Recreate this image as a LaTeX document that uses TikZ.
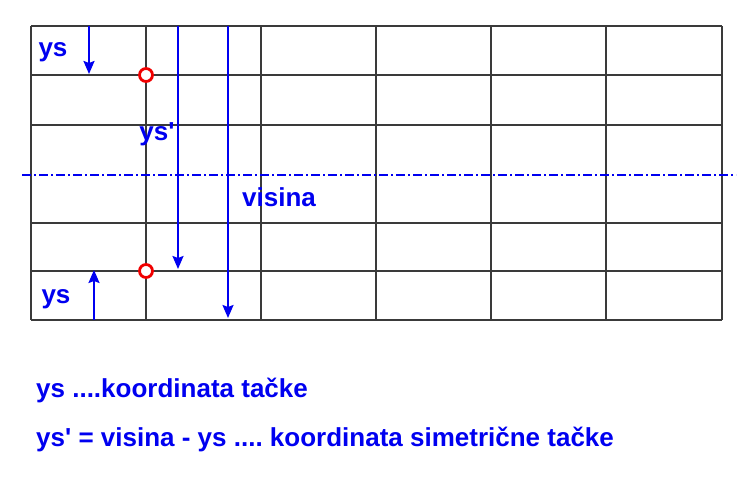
\documentclass[tikz,border=0pt]{standalone}
\usepackage{fontspec}
\setmainfont{Liberation Sans}[Ligatures=TeXOff]
\usetikzlibrary{arrows.meta,positioning}
\definecolor{GridInk}{HTML}{3A3A3A}
\definecolor{LabelBlue}{HTML}{0000F0}
\definecolor{DotRed}{HTML}{F00000}
\tikzset{
  gridline/.style={draw=GridInk, line width=1.1pt},
  axisline/.style={draw=LabelBlue, line width=1.2pt,
    dash pattern=on 9pt off 3pt on 2pt off 3pt},
  arrowline/.style={draw=LabelBlue, line width=2pt,
    -{Stealth[length=13pt,width=11pt,inset=2pt]}},
  labeltext/.style={text=LabelBlue, font=\fontsize{26}{30}\selectfont\bfseries,
    inner sep=1pt},
  notetext/.style={labeltext, anchor=west},
  pointmark/.style={circle, draw=DotRed, fill=white, line width=2.8pt,
    minimum size=13pt, inner sep=0pt}
}
\frenchspacing

\begin{document}
\begin{tikzpicture}[x=1pt,y=-1pt]
  \useasboundingbox (0,0) rectangle (747,497);

  % grid
  \foreach \gx in {31,146,261,376,491,606,722}
    \draw[gridline] (\gx,26) -- (\gx,320);
  \foreach \gy in {26,75,125,223,271,320}
    \draw[gridline] (31,\gy) -- (722,\gy);

  % axis of symmetry
  \coordinate (axisL) at (22,175);
  \coordinate (axisR) at (736,175);
  \draw[axisline] (axisL) -- (axisR);

  % arrow ends
  \coordinate (ysTopA) at (89,26);
  \coordinate (ysTopB) at (89,74);
  \coordinate (ysPrimA) at (178,26);
  \coordinate (ysPrimB) at (178,269);
  \coordinate (visA) at (228,26);
  \coordinate (visB) at (228,318);
  \coordinate (ysBotA) at (94,320);
  \coordinate (ysBotB) at (94,270);

  \draw[arrowline] (ysTopA) -- (ysTopB);
  \draw[arrowline] (ysPrimA) -- (ysPrimB);
  \draw[arrowline] (visA) -- (visB);
  \draw[arrowline] (ysBotA) -- (ysBotB);

  % points
  \node[pointmark] (ptTop) at (146,75) {};
  \node[pointmark] (ptBot) at (146,271) {};

  % labels
  \node[labeltext] (lblYsTop) at (53,52) {ys};
  \node[labeltext] (lblYsPrim) at (157,134) {ys'};
  \node[labeltext] (lblVisina) at (279,197) {visina};
  \node[labeltext] (lblYsBot) at (56,299) {ys};

  \node[notetext] (noteOne) at (35,390) {ys ....koordinata tačke};
  \node[notetext] (noteTwo) at (35,439) {ys' = visina - ys .... koordinata simetrične tačke};
\end{tikzpicture}
\end{document}
